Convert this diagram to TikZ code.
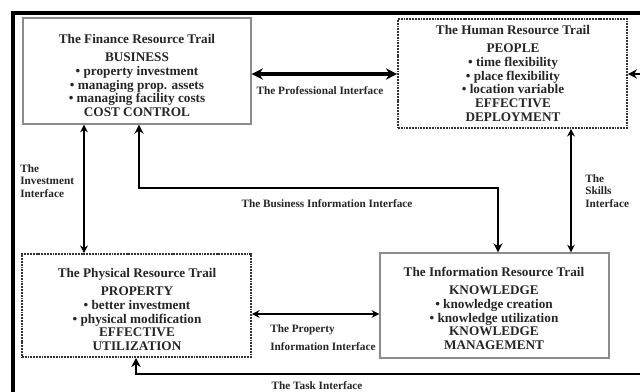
\documentclass[tikz,border=0pt]{standalone}
\usepackage{fontspec}
\setmainfont{Liberation Serif}
\usetikzlibrary{arrows.meta}
\begin{document}
\begin{tikzpicture}[x=0.025cm,y=-0.025cm,
  solidbox/.style={draw=black!45, line width=0.8pt, inner sep=0pt},
  dotbox/.style={draw=black!80, line width=1.1pt, dash pattern=on 1.3pt off 0.7pt, inner sep=0pt},
  boxtext/.style={anchor=north, align=center, font=\fontsize{9.4}{9.8}\selectfont\bfseries, inner sep=0pt, text=black!85},
  lbl/.style={font=\fontsize{8}{8.9}\selectfont\bfseries, inner sep=0pt, text=black!85},
  conn/.style={line width=2pt, {Stealth[length=6.5pt,width=6.5pt]}-{Stealth[length=6.5pt,width=6.5pt]}},
  thinconn/.style={line width=1.7pt, {Stealth[length=5.5pt,width=5.5pt]}-{Stealth[length=5.5pt,width=5.5pt]}},
  bigconn/.style={line width=2.8pt, {Stealth[length=8pt,width=8pt]}-{Stealth[length=8pt,width=8pt]}}
]
\useasboundingbox (0,0) rectangle (640,392);
\clip (0,0) rectangle (640,392);
\fill[white] (0,0) rectangle (640,392);

% outer frame
\draw[line width=2.2pt] (13,420) -- (13,13) -- (680,13);

% boxes
\node[solidbox, minimum width=5.7cm, minimum height=2.65cm] (fin) at (137,71) {};
\node[dotbox, minimum width=5.725cm, minimum height=2.725cm] (hum) at (512.5,73.5) {};
\node[dotbox, minimum width=5.725cm, minimum height=2.575cm] (phys) at (136.5,305.5) {};
\node[solidbox, minimum width=5.725cm, minimum height=2.625cm] (info) at (494.5,305.5) {};

% box texts
\node[boxtext] (fint) at (137,34) {The Finance Resource Trail\\[3pt]BUSINESS\\• property investment\\• managing prop. assets\\• managing facility costs\\COST CONTROL};
\node[boxtext] (humt) at (513,25) {The Human Resource Trail\\[3pt]PEOPLE\\• time flexibility\\• place flexibility\\• location variable\\EFFECTIVE\\DEPLOYMENT};
\node[boxtext] (physt) at (137,268) {The Physical Resource Trail\\[3pt]PROPERTY\\• better investment\\• physical modification\\EFFECTIVE\\UTILIZATION};
\node[boxtext] (infot) at (494,267) {The Information Resource Trail\\[3pt]KNOWLEDGE\\• knowledge creation\\• knowledge utilization\\KNOWLEDGE\\MANAGEMENT};

% helper coordinates
\coordinate (y74) at (0,74);
\coordinate (x84) at (84,0);
\coordinate (b1) at (139,188);
\coordinate (b2) at (498,188);
\coordinate (x571) at (571,0);
\coordinate (y314) at (0,314);
\coordinate (t1) at (136,374);
\coordinate (t2) at (660,374);
\coordinate (t3) at (660,74);

% connectors
\draw[bigconn] (fin.east |- y74) -- (hum.west |- y74);
\draw[thinconn] (fin.south -| x84) -- (phys.north -| x84);
\draw[conn] (fin.south -| b1) -- (b1) -- (b2) -- (info.north -| b2);
\draw[thinconn] (hum.south -| x571) -- (info.north -| x571);
\draw[thinconn] (phys.east |- y314) -- (info.west |- y314);
\draw[conn] (phys.south -| t1) -- (t1) -- (t2) -- (t3) -- (hum.east |- t3);

% labels
\node[lbl] (lprof) at (320,91) {The Professional Interface};
\node[lbl, anchor=north west, align=left] (linv) at (20,164) {The\\Investment\\Interface};
\node[lbl] (lbus) at (327,204) {The Business Information Interface};
\node[lbl, anchor=north west, align=left] (lskill) at (585,174) {The\\Skills\\Interface};
\node[lbl, anchor=west] (lprop1) at (270,330) {The Property};
\node[lbl, anchor=west] (lprop2) at (270,347) {Information Interface};
\node[lbl] (ltask) at (317,386) {The Task Interface};
\end{tikzpicture}
\end{document}
